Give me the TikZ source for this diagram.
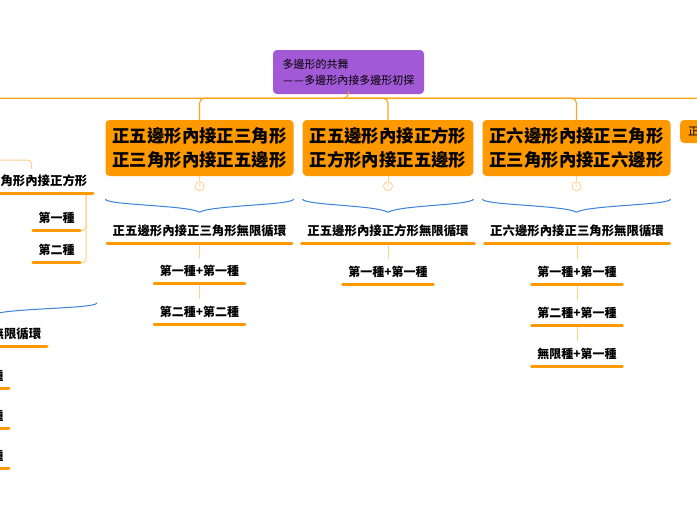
\documentclass[tikz,border=0pt]{standalone}
\usepackage{fontspec}
\setmainfont{Noto Sans CJK TC}
\usetikzlibrary{calc}
\definecolor{topicorange}{HTML}{FF9900}
\definecolor{trunkorange}{HTML}{FFA31A}
\definecolor{twigorange}{HTML}{FFD08C}
\definecolor{rootpurple}{HTML}{A259D6}
\definecolor{braceblue}{HTML}{3B82DB}
\newcommand{\wdash}{\makebox[11pt]{—}}
\tikzset{
  rootbox/.style={fill=rootpurple,rounded corners=4pt,
                  minimum width=151pt,minimum height=44pt,
                  align=left,inner xsep=9pt,font=\fontsize{11}{16}\selectfont},
  topicbox/.style={fill=topicorange,rounded corners=4pt,
                   minimum height=56pt,inner xsep=7pt,
                   align=center,font=\bfseries\fontsize{17.4}{24}\selectfont},
  stubbox/.style={fill=topicorange,rounded corners=4pt,
                  minimum height=23pt,inner xsep=8pt,text width=44pt,
                  align=left,font=\fontsize{11}{13}\selectfont},
  subhead/.style={minimum height=24pt,inner xsep=5.5pt,inner ysep=0pt,
                  font=\bfseries\fontsize{12.4}{14}\selectfont},
  leaf/.style={minimum height=25pt,inner xsep=5.5pt,inner ysep=0pt,
               font=\bfseries\fontsize{12}{14}\selectfont},
  knob/.style={circle,draw=twigorange,fill=white,line width=0.8pt,
               minimum size=9pt,inner sep=0pt,text=twigorange,
               font=\fontsize{5}{5}\selectfont},
  trunk/.style={draw=trunkorange,line width=1.1pt,rounded corners=5pt},
  twig/.style={draw=twigorange,line width=1pt,rounded corners=4pt},
  uline/.style={draw=topicorange,line width=3pt,line cap=round},
  brace/.style={draw=braceblue,line width=1pt}
}
\begin{document}
\begin{tikzpicture}[x=1pt,y=-1pt]
  \useasboundingbox (0,0) rectangle (697,520);
  \clip (0,0) rectangle (697,520);
  \fill[white] (0,0) rectangle (697,520);

  % root and topics
  \node[rootbox] (root) at (348.5,72) {多邊形的共舞\\\wdash\wdash 多邊形內接多邊形初探};
  \node[topicbox] (t1) at (199.5,148) {正五邊形內接正三角形\\正三角形內接正五邊形};
  \node[topicbox] (t2) at (388,148) {正五邊形內接正方形\\正方形內接正五邊形};
  \node[topicbox] (t3) at (576.5,148) {正六邊形內接正三角形\\正三角形內接正六邊形};
  \node[stubbox,anchor=west] (t4) at (680,131.5) {正};
  \coordinate (t0) at (-60,120);

  \coordinate (hub) at ($(root.south)+(0,4)$);
  \draw[trunk] (root.south) -- (hub) -| (t0);
  \draw[trunk] (hub) -| (t1.north);
  \draw[trunk] (hub) -| (t2.north);
  \draw[trunk] (hub) -| (t3.north);
  \draw[trunk] (hub) -| (t4.north);

  % knobs and braces
  \node[knob] (k1) at ($(t1.south)+(0,10)$) {4};
  \node[knob] (k2) at ($(t2.south)+(0,10)$) {6};
  \node[knob] (k3) at ($(t3.south)+(0,10)$) {7};
  \draw[twig] (t1.south) -- (k1.north);
  \draw[twig] (t2.south) -- (k2.north);
  \draw[twig] (t3.south) -- (k3.north);
  \foreach \t in {t1,t2,t3}{
    \draw[brace] ($(\t.south west)+(0,23)$) .. controls +(2,6) and +(-12,-7) .. ($(\t.south)+(0,36)$)
      .. controls +(12,-7) and +(-2,6) .. ($(\t.south east)+(0,23)$);
  }

  % loops under each topic
  \node[subhead] (h1) at (199.5,231) {正五邊形內接正三角形無限循環};
  \node[leaf] (h1a) at (199.5,271) {第一種+第一種};
  \node[leaf] (h1b) at (199.5,312) {第二種+第二種};
  \node[subhead] (h2) at (388,231) {正五邊形內接正方形無限循環};
  \node[leaf] (h2a) at (388,272) {第一種+第一種};
  \node[subhead] (h3) at (577,231) {正六邊形內接正三角形無限循環};
  \node[leaf] (h3a) at (577,272) {第一種+第一種};
  \node[leaf] (h3b) at (577,313) {第二種+第一種};
  \node[leaf] (h3c) at (577,354) {無限種+第一種};
  \draw[twig] (h1.south) -- (h1a.north);
  \draw[twig] (h1a.south) -- (h1b.north);
  \draw[twig] (h2.south) -- (h2a.north);
  \draw[twig] (h3.south) -- (h3a.north);
  \draw[twig] (h3a.south) -- (h3b.north);
  \draw[twig] (h3b.south) -- (h3c.north);

  % left column, cut by the edge
  \coordinate (gsrc) at (-20,160);
  \node[subhead] (g) at (31.5,181) {正三角形內接正方形};
  \node[leaf] (g1) at (56.5,218) {第一種};
  \node[leaf] (g2) at (56.5,250) {第二種};
  \draw[twig] (gsrc) -| (g.north);
  \draw[twig] ($(g.south east)+(-7,0)$) |- (g1.south east);
  \draw[twig] ($(g.south east)+(-7,0)$) |- (g2.south east);

  \coordinate (ftip) at (-8,315);
  \coordinate (fend) at (97,303);
  \draw[brace] (ftip) .. controls +(12,-7) and +(-2,6) .. (fend);
  \node[subhead,anchor=east] (f) at (47,334) {正四邊形內接正三角形無限循環};
  \node[leaf,anchor=east] (f1) at (9,376) {第一種};
  \node[leaf,anchor=east] (f2) at (9,416) {第二種};
  \node[leaf,anchor=east] (f3) at (9,456) {無限種};
  \draw[twig] (f1.south) -- (f2.north);
  \draw[twig] (f2.south) -- (f3.north);

  \foreach \n in {h1,h1a,h1b,h2,h2a,h3,h3a,h3b,h3c,g,g1,g2,f,f1,f2,f3}
    \draw[uline] (\n.south west) -- (\n.south east);
\end{tikzpicture}
\end{document}
